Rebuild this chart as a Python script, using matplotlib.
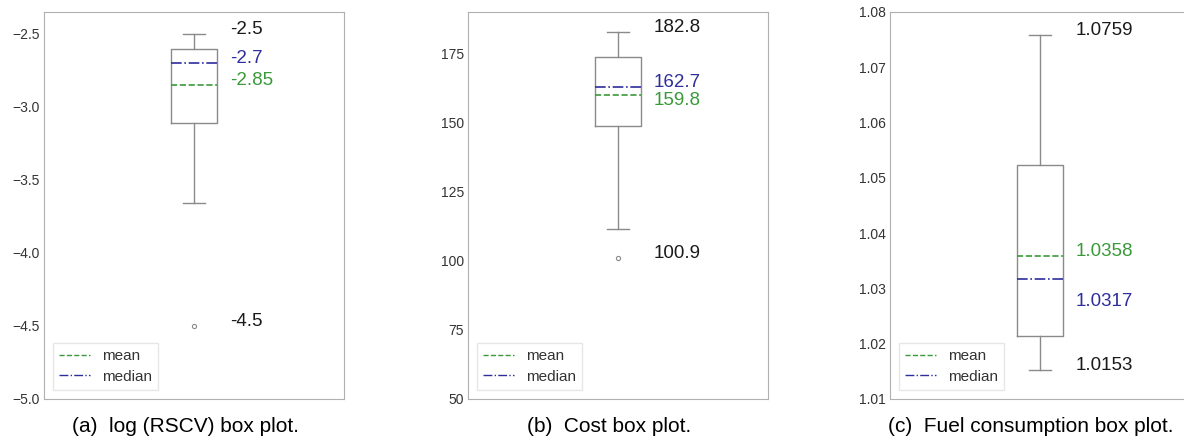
import matplotlib.pyplot as plt
from matplotlib.lines import Line2D

plt.rcParams['font.family'] = ['Liberation Sans', 'DejaVu Sans']

# box statistics
names = ['log (RSCV)', 'Cost', 'Fuel consumption']
letters = ['a', 'b', 'c']
whis_lo = [-3.66, 111.5, 1.0153]
q1 = [-3.11, 148.8, 1.0214]
medians = [-2.70, 162.7, 1.0317]
means = [-2.85, 159.8, 1.0358]
q3 = [-2.60, 173.8, 1.0524]
whis_hi = [-2.50, 182.8, 1.0759]
outliers = [[-4.5], [100.9], []]

# labels written next to the boxes
top_labels = ['-2.5', '182.8', '1.0759']
low_labels = ['-4.5', '100.9', '1.0153']
med_labels = ['-2.7', '162.7', '1.0317']
mean_labels = ['-2.85', '159.8', '1.0358']

ylims = [(-5.0, -2.35), (50, 190), (1.01, 1.08)]
yticks = [[-5.0, -4.5, -4.0, -3.5, -3.0, -2.5],
          [50, 75, 100, 125, 150, 175],
          [1.01, 1.02, 1.03, 1.04, 1.05, 1.06, 1.07, 1.08]]
yfmt = ['{:.1f}', '{:.0f}', '{:.2f}']

green = '#3a9a3a'
blue = '#2e2e9c'
gray = '#8a8a8a'

fig = plt.figure(figsize=(11.84, 4.47), dpi=100)
lefts = [44, 468, 890]

for i in range(3):
    ax = fig.add_axes([lefts[i] / 1184, 48 / 447, 300 / 1184, 387 / 447])
    st = [dict(whislo=whis_lo[i], q1=q1[i], med=medians[i], mean=means[i],
               q3=q3[i], whishi=whis_hi[i], fliers=outliers[i])]
    ax.bxp(st, positions=[1], widths=0.153, showmeans=True, meanline=True,
           boxprops=dict(color=gray, linewidth=1),
           whiskerprops=dict(color=gray, linewidth=1),
           capprops=dict(color=gray, linewidth=1),
           medianprops=dict(color=blue, linestyle='-.', linewidth=1.2),
           meanprops=dict(color=green, linestyle='--', linewidth=1.2),
           flierprops=dict(marker='o', markersize=3, markerfacecolor='none',
                           markeredgecolor=gray, markeredgewidth=0.8))
    ax.set_xlim(0.5, 1.5)
    ax.set_ylim(*ylims[i])
    ax.set_xticks([])
    ax.set_yticks(yticks[i])
    ax.set_yticklabels([yfmt[i].format(v).replace('-', '\u2212') for v in yticks[i]])
    ax.tick_params(axis='y', length=0, pad=3, labelsize=10, labelcolor='#333333')
    for s in ax.spines.values():
        s.set_color('#b0b0b0')

    span = ylims[i][1] - ylims[i][0]
    tx = 1.12
    ax.text(tx, whis_hi[i], top_labels[i], fontsize=13.5, color='#1a1a1a')
    ax.text(tx, whis_lo[i] if i == 2 else outliers[i][0], low_labels[i],
            fontsize=13.5, color='#1a1a1a')
    # median / mean labels, nudged apart where they would overlap
    med_y = medians[i]
    mean_y = means[i]
    if i == 1:
        med_y += 0.002 * span
        mean_y -= 0.025 * span
    if i == 2:
        med_y -= 0.07 * span
    ax.text(tx, med_y, med_labels[i], fontsize=13.5, color=blue)
    ax.text(tx, mean_y, mean_labels[i], fontsize=13.5, color=green)

    handles = [Line2D([], [], color=green, linestyle='--', linewidth=1),
               Line2D([], [], color=blue, linestyle='-.', linewidth=1)]
    leg = ax.legend(handles, ['mean', 'median'], loc='lower left', fontsize=11,
                    fancybox=False, handlelength=2.0, borderaxespad=0.6,
                    labelspacing=0.45, labelcolor='#333333')
    leg.get_frame().set_edgecolor('#e0e0e0')

    cx = (lefts[i] + 150 - 9) / 1184
    fig.text(cx, 20 / 447, '(%s)  %s box plot.' % (letters[i], names[i]),
             ha='center', va='center', fontsize=15)

fig.savefig('out.png', dpi=100)
